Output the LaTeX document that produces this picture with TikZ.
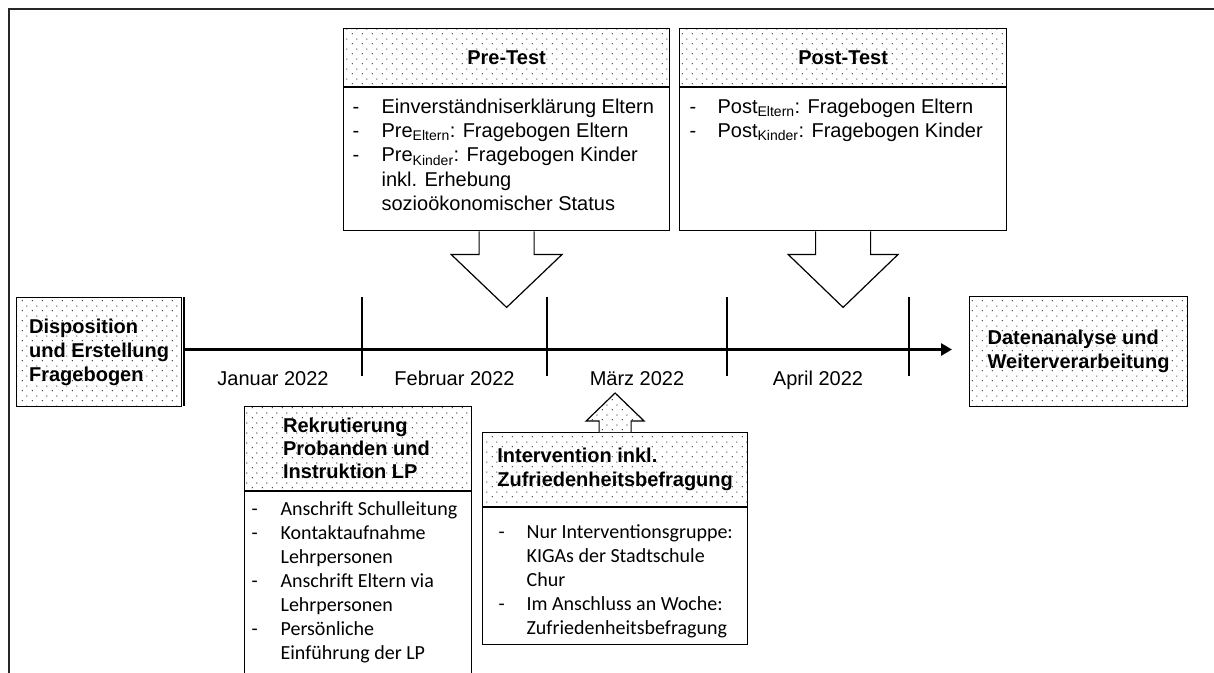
\documentclass[tikz,border=0pt]{standalone}
\usepackage{fontspec}
\setmainfont{Liberation Sans}
\newfontfamily\calfont{Carlito}
\usetikzlibrary{patterns.meta,arrows.meta,calc}

\tikzdeclarepattern{
  name=sdots,
  type=uncolored,
  bounding box={(0pt,0pt) and (10pt,9.6pt)},
  tile size={(10pt,9.6pt)},
  code={
    \fill (2.5pt,2.4pt) circle (0.7pt);
    \fill (7.5pt,7.2pt) circle (0.7pt);
  }
}

\newlength\hangw
\newcommand\li[1]{\par\noindent\hangindent=\hangw\hangafter=1\makebox[\hangw][l]{-}#1}

\tikzset{
  hdr/.style={draw, line width=1.2pt, preaction={fill=white}, pattern=sdots, pattern color=black!80,
    font=\bfseries\fontsize{20}{24}\selectfont, align=left, inner sep=0pt, anchor=north west},
  bodybox/.style={draw, line width=1.2pt, fill=white, inner sep=0pt, anchor=north west},
  blockarrow/.style={draw, line width=1.2pt, fill=white},
  dotarrow/.style={draw, line width=1.2pt, preaction={fill=white}, pattern=sdots, pattern color=black!80},
  tickline/.style={line width=1.5pt},
  timeline/.style={line width=3pt, -{Triangle[length=11pt,width=12pt]}},
  month/.style={font=\fontsize{20}{24}\selectfont, inner sep=0pt, anchor=base},
  frameline/.style={line width=1.2pt, black!85}
}

\begin{document}
\begin{tikzpicture}[x=1pt,y=-1pt]
\useasboundingbox (0,0) rectangle (1214,672);
\clip (0,0) rectangle (1214,672);
\fill[white] (0,0) rectangle (1214,672);

% frame
\draw[frameline] (9,680) -- (9,9) -- (1220,9);

% Pre-Test
\node[hdr, minimum width=326pt, minimum height=58pt] (preH) at (343,28) {Pre-Test};
\node[bodybox] (preB) at (preH.south west) {\parbox[c][143pt][t]{326pt}{\fontsize{20}{24.3}\selectfont\raggedright
  \leftskip=9pt\setlength\hangw{29pt}\vspace*{11pt}%
  \li{Einverständniserklärung Eltern}
  \li{Pre\textsubscript{Eltern}: Fragebogen Eltern}
  \li{Pre\textsubscript{Kinder}: Fragebogen Kinder\newline inkl. Erhebung\newline sozioökonomischer Status}\par}};

% Post-Test
\node[hdr, minimum width=327pt, minimum height=58pt] (postH) at (679,28) {Post-Test};
\node[bodybox] (postB) at (postH.south west) {\parbox[c][143pt][t]{327pt}{\fontsize{20}{24.3}\selectfont\raggedright
  \leftskip=10pt\setlength\hangw{28pt}\vspace*{11pt}%
  \li{Post\textsubscript{Eltern}: Fragebogen Eltern}
  \li{Post\textsubscript{Kinder}: Fragebogen Kinder}\par}};

% Disposition
\node[hdr, minimum width=165pt, minimum height=109pt] (disp) at (16,297) {Disposition\\und Erstellung\\Fragebogen};

% Datenanalyse
\node[hdr, minimum width=218pt, minimum height=110pt] (dat) at (969,296) {Datenanalyse und\\Weiterverarbeitung};

% Rekrutierung
\node[hdr, minimum width=227pt, minimum height=84pt, font=\bfseries\fontsize{20}{23}\selectfont] (rekH) at (244,406) {\raisebox{-3pt}{\parbox{150pt}{Rekrutierung\\Probanden und\\Instruktion LP}}};
\node[bodybox] (rekB) at (rekH.south west) {\parbox[c][200pt][t]{227pt}{\calfont\fontsize{20}{24}\selectfont\raggedright
  \leftskip=7pt\setlength\hangw{29pt}\vspace*{10pt}%
  \li{Anschrift Schulleitung}
  \li{Kontaktaufnahme\newline Lehrpersonen}
  \li{Anschrift Eltern via\newline Lehrpersonen}
  \li{Persönliche\newline Einführung der LP}\par}};

% Intervention
\node[hdr, minimum width=265pt, minimum height=74pt] (intH) at (482,432) {Intervention inkl.\\Zufriedenheitsbefragung};
\node[bodybox] (intB) at (intH.south west) {\parbox[c][137pt][t]{265pt}{\calfont\fontsize{20}{24}\selectfont\raggedright
  \leftskip=16pt\setlength\hangw{28pt}\vspace*{17pt}%
  \li{Nur Interventionsgruppe:\newline KIGAs der Stadtschule\newline Chur}
  \li{Im Anschluss an Woche:\newline Zufriedenheitsbefragung}\par}};

% timeline
\coordinate (t0) at (184,297);
\coordinate (t1) at (362,297);
\coordinate (t2) at (547,297);
\coordinate (t3) at (727,297);
\coordinate (t4) at (909,297);
\coordinate (tl) at (184,349.5);
\draw[tickline] (t0) -- ++(0,109);
\draw[tickline] (t1) -- ++(0,79);
\draw[tickline] (t2) -- ++(0,79);
\draw[tickline] (t3) -- ++(0,79);
\draw[tickline] (t4) -- ++(0,79);
\draw[timeline, shorten >=17pt] (tl) -- (tl -| dat.west);

\node[month] (m1) at ($(t0)!0.5!(t1)+(0,88)$) {Januar 2022};
\node[month] (m2) at ($(t1)!0.5!(t2)+(0,88)$) {Februar 2022};
\node[month] (m3) at ($(t2)!0.5!(t3)+(0,88)$) {März 2022};
\node[month] (m4) at ($(t3)!0.5!(t4)+(0,88)$) {April 2022};

% block arrows
\draw[blockarrow] ([xshift=-27.5pt]preB.south) -- ++(0,23) -- ++(-28,0) -- ++(55.5,53) -- ++(55.5,-53) -- ++(-28,0) -- ++(0,-23);
\draw[blockarrow] ([xshift=-27.5pt]postB.south) -- ++(0,23) -- ++(-27.5,0) -- ++(55,53) -- ++(55,-53) -- ++(-27.5,0) -- ++(0,-23);
\draw[dotarrow] ([xshift=-16pt]intH.north) -- ++(0,-11) -- ++(-13,0) -- ++(29,-28) -- ++(29,28) -- ++(-13,0) -- ++(0,11);
\end{tikzpicture}
\end{document}
